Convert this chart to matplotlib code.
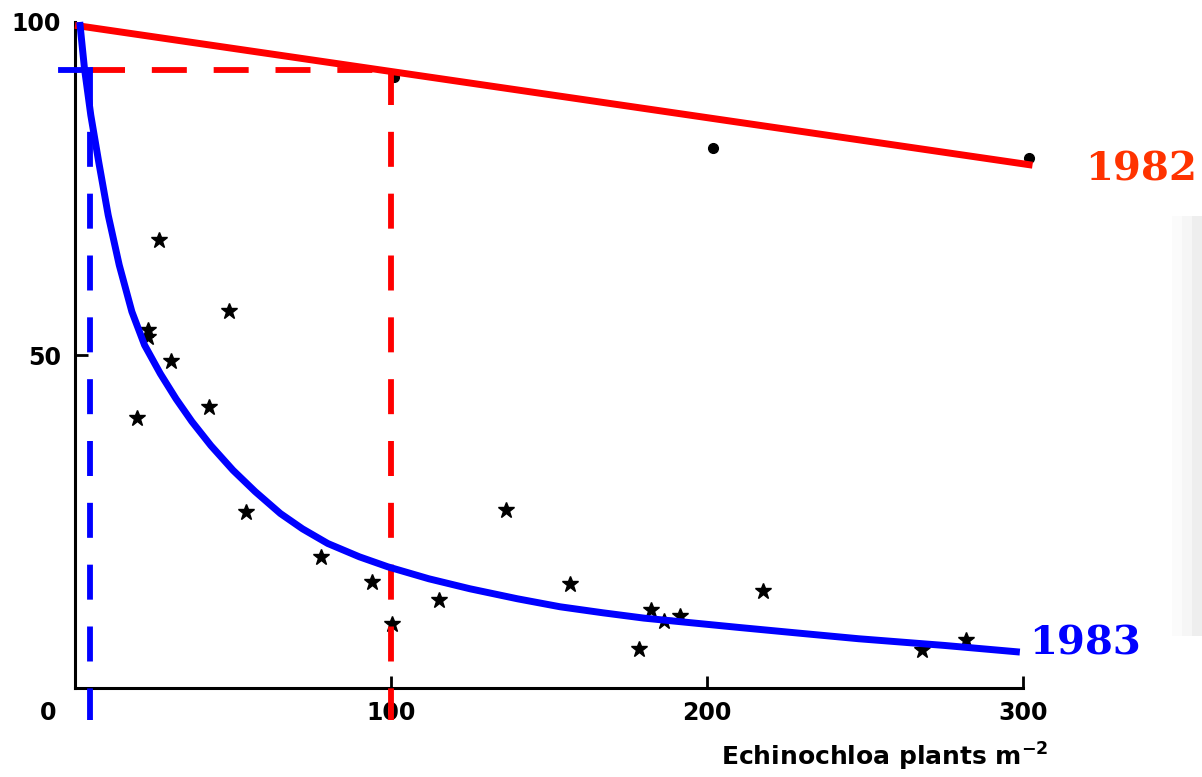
import matplotlib.pyplot as plt
import matplotlib.patches as patches

# 1983 field: yield (% of weed-free) vs Echinochloa density
pts83_x = [19.6, 23, 23, 26.6, 30.4, 42.4, 48.7, 54.1, 77.8, 94, 100.3, 115.2,
           136.4, 156.6, 178.5, 182.3, 186.5, 191.5, 217.7, 268, 282]
pts83_y = [40.5, 53.8, 52.7, 67.3, 49.1, 42.2, 56.6, 26.4, 19.7, 15.9, 9.6, 13.2,
           26.7, 15.6, 5.9, 11.7, 10.0, 10.8, 14.6, 5.7, 7.2]

# 1982 field
pts82_x = [101, 202, 302]
pts82_y = [91.7, 81.1, 79.6]

# fitted curves
fit82_x = [0, 303]
fit82_y = [99.5, 78.5]
fit83_x = [1.5, 3, 5, 7.5, 10.5, 14, 18, 22, 27, 32, 37, 43, 50, 57, 65, 72, 80,
           90, 99, 112, 125, 140, 153.5, 167, 180, 195, 210, 230, 248, 275, 299]
fit83_y = [100, 93, 86, 79, 71, 63.5, 56.5, 51.5, 47.2, 43.4, 40.0, 36.4, 32.7, 29.5,
           26.2, 23.9, 21.7, 19.7, 18.2, 16.4, 14.9, 13.4, 12.2, 11.3, 10.5, 9.8, 9.1,
           8.2, 7.4, 6.4, 5.4]

# threshold markers
thr_y = 92.8
thr82_x = 100
thr83_x = 4.7

fig = plt.figure(figsize=(12.02, 7.77), dpi=100)
ax = fig.add_axes([0.0624, 0.1145, 0.7887, 0.8572])
ax.set_xlim(0, 300)
ax.set_ylim(0, 100)

for s in ['top', 'right']:
    ax.spines[s].set_visible(False)
for s in ['left', 'bottom']:
    ax.spines[s].set_linewidth(2.2)

ax.set_xticks([100, 200, 300])
ax.set_xticklabels(['100', '200', '300'])
ax.set_yticks([50, 100])
ax.set_yticklabels(['50', '100'])
ax.tick_params(axis='both', direction='in', length=9, width=2, labelsize=17)
ax.tick_params(axis='x', pad=9)
ax.tick_params(axis='y', pad=10)
ax.yaxis.get_major_ticks()[1].tick1line.set_visible(False)
for lab in ax.get_xticklabels() + ax.get_yticklabels():
    lab.set_fontweight('bold')

# data points (under the lines)
ax.plot(pts83_x, pts83_y, linestyle='none', marker='*', ms=12, color='black',
        zorder=2, clip_on=False)
ax.plot(pts82_x, pts82_y, linestyle='none', marker='o', ms=7, color='black',
        zorder=2, clip_on=False)

# dashed threshold lines
dash = (0, (6, 4.6))
ax.plot([thr82_x, thr82_x], [thr_y, -4.8], color='red', lw=4.2, linestyle=dash,
        zorder=3, clip_on=False)
ax.plot([thr83_x, thr82_x], [thr_y, thr_y], color='red', lw=4.2, linestyle=dash,
        zorder=3, clip_on=False)
ax.plot([thr83_x, thr83_x], [thr_y, -4.8], color='blue', lw=4.2, linestyle=dash,
        zorder=3, clip_on=False)
ax.plot([-4.4, thr83_x], [thr_y, thr_y], color='blue', lw=4.2, zorder=3, clip_on=False)

# fitted lines
ax.plot(fit82_x, fit82_y, color='red', lw=5, zorder=4, clip_on=False,
        solid_capstyle='butt')
ax.plot(fit83_x, fit83_y, color='blue', lw=5, zorder=4, clip_on=False,
        solid_capstyle='butt', solid_joinstyle='round')

ax.text(1.065, 0.778, '1982', transform=ax.transAxes, color='#ff3300',
        fontsize=29, fontweight='bold', family='DejaVu Serif', va='center', ha='left')
ax.text(1.006, 0.067, '1983', transform=ax.transAxes, color='blue',
        fontsize=29, fontweight='bold', family='DejaVu Serif', va='center', ha='left')

fig.text(48 / 1202, 1 - 713 / 777, '0', fontsize=17, fontweight='bold',
         ha='center', va='center')
fig.text(885 / 1202, 1 - 757 / 777, r'Echinochloa plants m$^{\mathbf{-2}}$',
         fontsize=18, fontweight='bold', ha='center', va='center')

# faint shadow at the right edge
for x0, c in [(1172, '#fbfbfb'), (1182, '#f6f6f6'), (1192, '#eeeeee')]:
    fig.patches.append(patches.Rectangle((x0 / 1202, 1 - 636 / 777), 10 / 1202,
                                         420 / 777, transform=fig.transFigure,
                                         facecolor=c, edgecolor='none', zorder=0))

fig.savefig('out.png', dpi=100)
